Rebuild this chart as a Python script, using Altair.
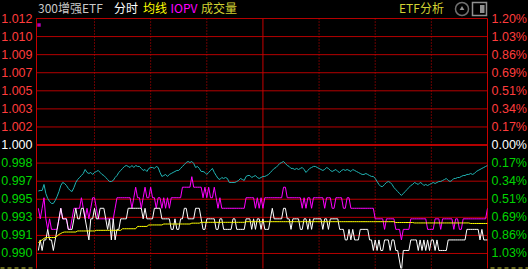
import altair as alt
import pandas as pd

# ---------------- data ----------------
minute = list(range(241))

price = [
    0.990, 0.991, 0.990, 0.991, 0.991, 0.992, 0.991, 0.991, 0.990, 0.991,
    0.992, 0.993, 0.994, 0.993, 0.993, 0.993, 0.992, 0.992, 0.992, 0.993,
    0.994, 0.993, 0.993, 0.994, 0.994, 0.993, 0.992, 0.991, 0.993, 0.993,
    0.994, 0.993, 0.993, 0.994, 0.994, 0.994, 0.993, 0.992, 0.993, 0.991,
    0.993, 0.991, 0.992, 0.992, 0.993, 0.993, 0.993, 0.993, 0.994, 0.994,
    0.994, 0.994, 0.994, 0.994, 0.994, 0.994, 0.993, 0.994, 0.993, 0.993,
    0.993, 0.993, 0.994, 0.994, 0.994, 0.994, 0.993, 0.993, 0.993, 0.993,
    0.993, 0.992, 0.992, 0.993, 0.992, 0.992, 0.993, 0.993, 0.994, 0.994,
    0.993, 0.993, 0.993, 0.993, 0.994, 0.994, 0.994, 0.993, 0.992, 0.992,
    0.993, 0.993, 0.993, 0.993, 0.993, 0.992, 0.992, 0.993, 0.993, 0.992,
    0.992, 0.992, 0.992, 0.992, 0.993, 0.993, 0.992, 0.992, 0.992, 0.992,
    0.992, 0.993, 0.993, 0.993, 0.992, 0.993, 0.992, 0.993, 0.993, 0.992,
    0.993, 0.992, 0.992, 0.992, 0.993, 0.994, 0.993, 0.993, 0.993, 0.993,
    0.993, 0.994, 0.994, 0.993, 0.993, 0.992, 0.993, 0.993, 0.993, 0.993,
    0.992, 0.992, 0.993, 0.993, 0.992, 0.993, 0.992, 0.993, 0.993, 0.993,
    0.993, 0.993, 0.992, 0.993, 0.993, 0.992, 0.993, 0.993, 0.993, 0.993,
    0.993, 0.992, 0.992, 0.992, 0.991, 0.991, 0.992, 0.991, 0.992, 0.991,
    0.991, 0.991, 0.992, 0.992, 0.992, 0.992, 0.992, 0.991, 0.991, 0.990,
    0.991, 0.990, 0.991, 0.990, 0.990, 0.991, 0.991, 0.991, 0.990, 0.991,
    0.991, 0.990, 0.990, 0.989, 0.988, 0.990, 0.990, 0.990, 0.990, 0.991,
    0.991, 0.991, 0.991, 0.990, 0.991, 0.990, 0.991, 0.990, 0.991, 0.990,
    0.991, 0.991, 0.990, 0.991, 0.990, 0.990, 0.990, 0.990, 0.990, 0.991,
    0.991, 0.991, 0.991, 0.991, 0.991, 0.991, 0.991, 0.991, 0.991, 0.992,
    0.992, 0.992, 0.992, 0.992, 0.992, 0.992, 0.991, 0.992, 0.991, 0.991, 0.991,
]

iopv = [
    0.994, 0.993, 0.994, 0.995, 0.993, 0.992, 0.993, 0.992, 0.992, 0.992,
    0.992, 0.993, 0.994, 0.993, 0.993, 0.993, 0.992, 0.992, 0.993, 0.994,
    0.994, 0.994, 0.994, 0.995, 0.994, 0.993, 0.994, 0.993, 0.994, 0.995,
    0.995, 0.994, 0.993, 0.993, 0.993, 0.993, 0.993, 0.993, 0.993, 0.993,
    0.993, 0.994, 0.995, 0.995, 0.995, 0.995, 0.995, 0.995, 0.995, 0.995,
    0.994, 0.995, 0.996, 0.995, 0.995, 0.994, 0.995, 0.996, 0.995, 0.995,
    0.996, 0.995, 0.995, 0.994, 0.995, 0.995, 0.994, 0.995, 0.994, 0.995,
    0.994, 0.995, 0.995, 0.995, 0.995, 0.995, 0.995, 0.996, 0.996, 0.996,
    0.996, 0.996, 0.997, 0.996, 0.996, 0.996, 0.996, 0.996, 0.995, 0.996,
    0.995, 0.996, 0.995, 0.995, 0.996, 0.995, 0.994, 0.995, 0.994, 0.994,
    0.994, 0.994, 0.994, 0.994, 0.994, 0.994, 0.994, 0.994, 0.994, 0.994,
    0.994, 0.995, 0.995, 0.995, 0.995, 0.995, 0.994, 0.995, 0.994, 0.995,
    0.994, 0.995, 0.995, 0.995, 0.995, 0.995, 0.995, 0.995, 0.995, 0.995,
    0.995, 0.996, 0.996, 0.995, 0.995, 0.995, 0.995, 0.995, 0.995, 0.995,
    0.995, 0.994, 0.995, 0.994, 0.995, 0.995, 0.994, 0.995, 0.995, 0.995,
    0.995, 0.995, 0.995, 0.994, 0.995, 0.995, 0.995, 0.994, 0.994, 0.995,
    0.995, 0.995, 0.995, 0.994, 0.994, 0.995, 0.995, 0.994, 0.994, 0.994,
    0.994, 0.994, 0.994, 0.994, 0.994, 0.994, 0.994, 0.994, 0.994, 0.994,
    0.993, 0.993, 0.993, 0.993, 0.993, 0.992, 0.993, 0.993, 0.993, 0.993,
    0.993, 0.992, 0.992, 0.992, 0.991, 0.992, 0.992, 0.992, 0.992, 0.993,
    0.993, 0.993, 0.993, 0.993, 0.993, 0.993, 0.993, 0.993, 0.992, 0.992,
    0.992, 0.992, 0.993, 0.993, 0.993, 0.992, 0.993, 0.993, 0.993, 0.993,
    0.993, 0.993, 0.992, 0.993, 0.993, 0.992, 0.992, 0.993, 0.993, 0.993,
    0.993, 0.993, 0.993, 0.993, 0.993, 0.993, 0.993, 0.993, 0.993, 0.993, 0.994,
]

cyan = [
    0.99564, 0.99569, 0.99569, 0.99626, 0.99540, 0.99493, 0.99465, 0.99446, 0.99446, 0.99474,
    0.99512, 0.99559, 0.99616, 0.99645, 0.99635, 0.99616, 0.99588, 0.99569, 0.99559, 0.99597,
    0.99645, 0.99673, 0.99692, 0.99711, 0.99730, 0.99768, 0.99740, 0.99730, 0.99740, 0.99721,
    0.99740, 0.99749, 0.99759, 0.99740, 0.99721, 0.99711, 0.99692, 0.99673, 0.99654, 0.99654,
    0.99664, 0.99692, 0.99711, 0.99740, 0.99759, 0.99778, 0.99797, 0.99806, 0.99797, 0.99787,
    0.99806, 0.99787, 0.99806, 0.99797, 0.99797, 0.99778, 0.99759, 0.99768, 0.99749, 0.99778,
    0.99787, 0.99787, 0.99778, 0.99797, 0.99787, 0.99740, 0.99702, 0.99711, 0.99721, 0.99702,
    0.99721, 0.99730, 0.99740, 0.99749, 0.99759, 0.99759, 0.99778, 0.99797, 0.99815, 0.99834,
    0.99844, 0.99834, 0.99844, 0.99825, 0.99787, 0.99797, 0.99778, 0.99749, 0.99749, 0.99740,
    0.99721, 0.99740, 0.99759, 0.99778, 0.99740, 0.99711, 0.99683, 0.99673, 0.99692, 0.99683,
    0.99692, 0.99683, 0.99645, 0.99645, 0.99645, 0.99645, 0.99654, 0.99664, 0.99683, 0.99673,
    0.99664, 0.99702, 0.99711, 0.99711, 0.99692, 0.99702, 0.99711, 0.99692, 0.99683, 0.99692,
    0.99702, 0.99702, 0.99711, 0.99721, 0.99740, 0.99759, 0.99778, 0.99787, 0.99806, 0.99825,
    0.99834, 0.99844, 0.99825, 0.99806, 0.99797, 0.99778, 0.99778, 0.99768, 0.99778, 0.99768,
    0.99778, 0.99787, 0.99768, 0.99740, 0.99759, 0.99778, 0.99787, 0.99797, 0.99797, 0.99787,
    0.99778, 0.99768, 0.99759, 0.99768, 0.99787, 0.99778, 0.99759, 0.99749, 0.99759, 0.99768,
    0.99749, 0.99740, 0.99759, 0.99768, 0.99759, 0.99768, 0.99759, 0.99749, 0.99768, 0.99759,
    0.99749, 0.99740, 0.99730, 0.99721, 0.99721, 0.99730, 0.99721, 0.99711, 0.99702, 0.99702,
    0.99683, 0.99654, 0.99626, 0.99607, 0.99607, 0.99626, 0.99645, 0.99654, 0.99645, 0.99626,
    0.99597, 0.99578, 0.99559, 0.99540, 0.99522, 0.99540, 0.99559, 0.99578, 0.99597, 0.99616,
    0.99626, 0.99645, 0.99635, 0.99626, 0.99645, 0.99635, 0.99616, 0.99626, 0.99616, 0.99626,
    0.99635, 0.99645, 0.99635, 0.99645, 0.99654, 0.99654, 0.99664, 0.99673, 0.99683, 0.99664,
    0.99654, 0.99664, 0.99683, 0.99683, 0.99692, 0.99692, 0.99702, 0.99711, 0.99711, 0.99721,
    0.99721, 0.99730, 0.99721, 0.99730, 0.99749, 0.99759, 0.99768, 0.99778, 0.99787, 0.99797, 0.99806,
]

avg = [
    0.99071, 0.99090, 0.99100, 0.99114, 0.99123, 0.99123, 0.99123, 0.99123, 0.99123, 0.99123,
    0.99137, 0.99152, 0.99161, 0.99171, 0.99175, 0.99175, 0.99175, 0.99175, 0.99175, 0.99175,
    0.99175, 0.99185, 0.99185, 0.99185, 0.99185, 0.99185, 0.99185, 0.99185, 0.99185, 0.99185,
    0.99185, 0.99191, 0.99191, 0.99191, 0.99191, 0.99191, 0.99191, 0.99191, 0.99191, 0.99191,
    0.99191, 0.99191, 0.99191, 0.99191, 0.99191, 0.99206, 0.99206, 0.99206, 0.99206, 0.99206,
    0.99206, 0.99206, 0.99206, 0.99228, 0.99228, 0.99228, 0.99228, 0.99228, 0.99228, 0.99242,
    0.99242, 0.99242, 0.99242, 0.99242, 0.99242, 0.99242, 0.99242, 0.99251, 0.99251, 0.99251,
    0.99251, 0.99251, 0.99251, 0.99251, 0.99251, 0.99251, 0.99251, 0.99251, 0.99251, 0.99251,
    0.99251, 0.99251, 0.99259, 0.99259, 0.99259, 0.99259, 0.99259, 0.99267, 0.99267, 0.99267,
    0.99267, 0.99267, 0.99267, 0.99267, 0.99267, 0.99267, 0.99267, 0.99267, 0.99267, 0.99267,
    0.99267, 0.99267, 0.99267, 0.99267, 0.99267, 0.99267, 0.99267, 0.99267, 0.99267, 0.99267,
    0.99267, 0.99273, 0.99273, 0.99273, 0.99273, 0.99273, 0.99273, 0.99273, 0.99273, 0.99273,
    0.99273, 0.99273, 0.99273, 0.99273, 0.99273, 0.99273, 0.99273, 0.99273, 0.99273, 0.99273,
    0.99273, 0.99273, 0.99273, 0.99273, 0.99273, 0.99273, 0.99273, 0.99273, 0.99273, 0.99273,
    0.99273, 0.99273, 0.99273, 0.99273, 0.99273, 0.99273, 0.99273, 0.99273, 0.99273, 0.99273,
    0.99273, 0.99273, 0.99273, 0.99273, 0.99273, 0.99273, 0.99273, 0.99273, 0.99273, 0.99273,
    0.99273, 0.99273, 0.99273, 0.99273, 0.99273, 0.99273, 0.99273, 0.99273, 0.99273, 0.99273,
    0.99273, 0.99273, 0.99273, 0.99273, 0.99273, 0.99273, 0.99273, 0.99273, 0.99273, 0.99273,
    0.99273, 0.99273, 0.99273, 0.99273, 0.99273, 0.99273, 0.99273, 0.99273, 0.99273, 0.99273,
    0.99273, 0.99265, 0.99265, 0.99265, 0.99265, 0.99265, 0.99265, 0.99265, 0.99265, 0.99265,
    0.99265, 0.99261, 0.99261, 0.99261, 0.99261, 0.99261, 0.99261, 0.99261, 0.99261, 0.99261,
    0.99261, 0.99261, 0.99261, 0.99261, 0.99261, 0.99261, 0.99261, 0.99261, 0.99261, 0.99261,
    0.99261, 0.99261, 0.99261, 0.99261, 0.99261, 0.99261, 0.99261, 0.99261, 0.99261, 0.99261,
    0.99261, 0.99256, 0.99256, 0.99256, 0.99256, 0.99256, 0.99256, 0.99256, 0.99256, 0.99256, 0.99256,
]

# tick positions (prev close 1.000, steps of 0.1714%) and their labels
grid_price = [1.012, 1.0102857, 1.0085714, 1.0068571, 1.0051429, 1.0034286, 1.0017143,
              1.0, 0.9982857, 0.9965714, 0.9948571, 0.9931429, 0.9914286, 0.9897143]
left_labels = ["1.012", "1.010", "1.009", "1.007", "1.005", "1.003", "1.002",
               "1.000", "0.998", "0.997", "0.995", "0.993", "0.991", "0.990"]
right_labels = ["1.20%", "1.03%", "0.86%", "0.69%", "0.51%", "0.34%", "0.17%",
                "0.00%", "0.17%", "0.34%", "0.51%", "0.69%", "0.86%", "1.03%"]
dotted_minutes = [30, 60, 90, 150, 180, 210]
solid_minutes = [-1, 120, 240]

# ---------------- styling ----------------
GRID = "#b40000"
RED = "#ff3c3c"
GREEN = "#00d400"
W, H = 451, 250

xs = alt.Scale(domain=[-1, 240], nice=False, zero=False)
ys = alt.Scale(domain=[0.98829, 1.012], nice=False, zero=False)
X = alt.X("m:Q", scale=xs, axis=None)
Y = alt.Y("v:Q", scale=ys, axis=None)

series_df = pd.DataFrame({"m": minute, "price": price, "iopv": iopv, "cyan": cyan, "avg": avg})
grid_df = pd.DataFrame({"v": grid_price, "left": left_labels, "right": right_labels})


def line(col, color):
    return (
        alt.Chart(series_df)
        .transform_calculate(v=f"datum.{col}")
        .mark_line(color=color, strokeWidth=1, clip=True, interpolate="linear")
        .encode(x=X, y=Y)
    )


hgrid = alt.Chart(grid_df).transform_filter("datum.v != 1").mark_rule(color=GRID, strokeWidth=1).encode(y=Y)
zero_line = alt.Chart(grid_df).transform_filter("datum.v == 1").mark_rule(color=GRID, strokeWidth=2).encode(y=Y)
vdot = alt.Chart(pd.DataFrame({"m": dotted_minutes})).mark_rule(
    color="#d00000", strokeWidth=1, strokeDash=[1, 2]).encode(x=X)
vsolid = alt.Chart(pd.DataFrame({"m": solid_minutes})).mark_rule(color="#c80000", strokeWidth=1).encode(x=X)

side = "datum.v > 1.0001 ? 'up' : (datum.v < 0.9999 ? 'down' : 'flat')"
label_color = alt.Color("side:N", scale=alt.Scale(domain=["up", "flat", "down"], range=[RED, "#ffffff", GREEN]),
                        legend=None)
left_txt = alt.Chart(grid_df).transform_calculate(side=side).mark_text(
    align="right", baseline="middle", font="Liberation Sans", fontSize=12.5
).encode(y=Y, x=alt.value(-4), text="left:N", color=label_color)
right_txt = alt.Chart(grid_df).transform_calculate(side=side).mark_text(
    align="left", baseline="middle", font="Liberation Sans", fontSize=12.5
).encode(y=Y, x=alt.value(W + 4), text="right:N", color=label_color)


def header(text, x, color):
    return alt.Chart(pd.DataFrame({"t": [text]})).mark_text(
        align="left", baseline="middle", font="Noto Sans CJK SC", fontSize=12, color=color
    ).encode(text="t:N", x=alt.value(x), y=alt.value(-10))


headers = [
    header("300增强ETF", 1.5, "#c8c8c8"),
    header("分时", 77.5, "#ffffff"),
    header("均线", 106.5, "#ffff00"),
    header("IOPV", 134, "#ff00ff"),
    header("成交量", 164.5, "#d2d232"),
    header("ETF分析", 362.5, "#d2d232"),
]

one = pd.DataFrame({"k": [0]})
icon_circle = alt.Chart(one).mark_point(shape="circle", size=170, filled=False, color="#a0a0a0",
                                        strokeWidth=1.5).encode(x=alt.value(425.5), y=alt.value(-9.5))
icon_arrow = alt.Chart(one).mark_point(shape="triangle-up", size=22, filled=True, color="#d0d0d0"
                                       ).encode(x=alt.value(425.5), y=alt.value(-10.5))
icon_box = alt.Chart(one).mark_rect(fillOpacity=0, stroke="#909090", strokeWidth=1.5).encode(
    x=alt.value(436), x2=alt.value(450), y=alt.value(-16), y2=alt.value(-3))
icon_bar = alt.Chart(one).mark_rect(color="#909090").encode(
    x=alt.value(443.5), x2=alt.value(448), y=alt.value(-13.5), y2=alt.value(-5.5))
marker = alt.Chart(one).mark_point(shape="square", size=12, filled=True, color="#ff00ff").encode(
    x=alt.value(2.5), y=alt.value(6.5))
dash_l = alt.Chart(one).mark_rule(color="#c8c832", strokeDash=[4, 3]).encode(
    x=alt.value(-36), x2=alt.value(-3), y=alt.value(249.5))
dash_r = alt.Chart(one).mark_rule(color="#c8c832", strokeDash=[4, 3]).encode(
    x=alt.value(W + 3), x2=alt.value(W + 41), y=alt.value(249.5))

chart = alt.layer(
    hgrid, zero_line, vdot, vsolid,
    line("cyan", "#20b4b4"),
    line("iopv", "#ff00ff"),
    line("price", "#ffffff"),
    line("avg", "#ffff00"),
    left_txt, right_txt,
    *headers,
    icon_circle, icon_arrow, icon_box, icon_bar, marker, dash_l, dash_r,
).properties(
    width=W, height=H, background="black",
    padding={"left": 36.5, "top": 18.5, "right": 40.5, "bottom": 0},
    autosize=alt.AutoSizeParams(type="none"),
).configure_view(strokeWidth=0)

chart.save("out.html", embed_options={"renderer": "svg", "actions": False})
